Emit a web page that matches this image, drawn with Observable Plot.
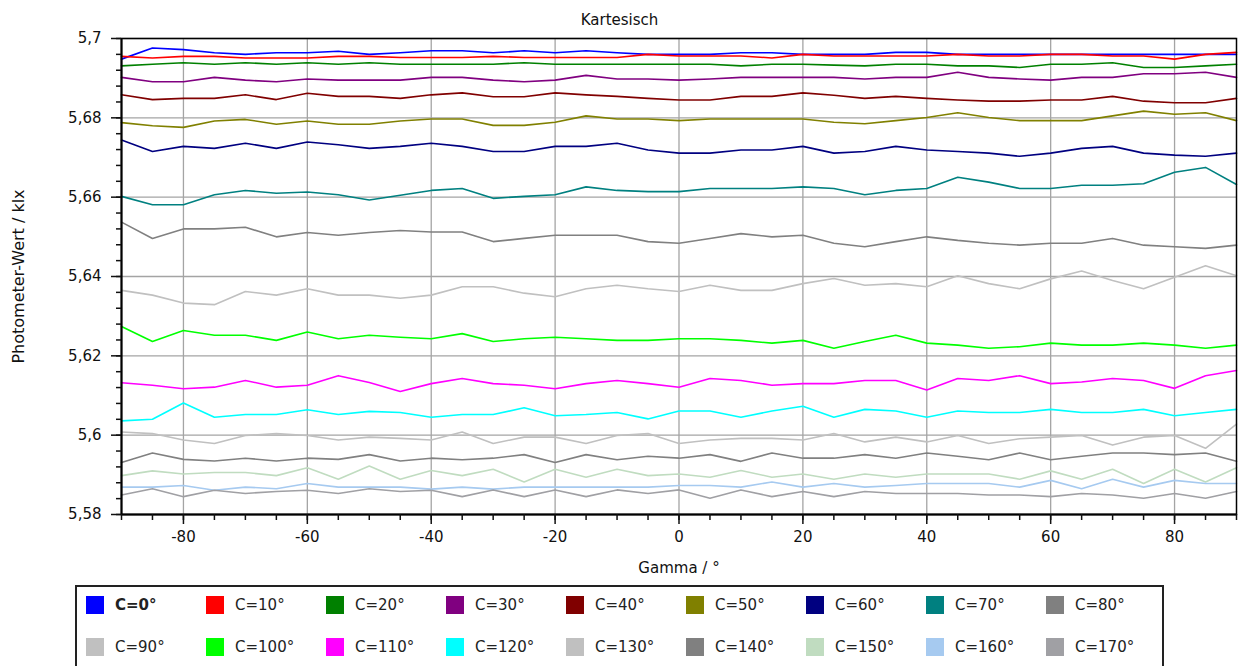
<!DOCTYPE html>
<html><head><meta charset="utf-8">
<script src="https://cdn.jsdelivr.net/npm/d3@7"></script>
<script src="https://cdn.jsdelivr.net/npm/@observablehq/plot@0.6"></script>
<style>
body{margin:0;background:#fff;font-family:"DejaVu Sans",sans-serif;}
#chart{position:absolute;left:0;top:0;}
#legend{position:absolute;left:75px;top:585px;width:1089px;height:110px;border:2px solid #222;box-sizing:border-box;background:#fff;}
.item{position:absolute;display:flex;align-items:center;font-size:15px;color:#222;height:18px;white-space:nowrap;}
.sw{width:18px;height:18px;margin-right:11px;flex:none;}
</style></head><body>
<div id="chart"></div><div id="legend"></div>
<script>
const title = "Kartesisch";
const xLabel = "Gamma / °";
const yLabel = "Photometer-Wert / klx";
const gamma = [-90,-85,-80,-75,-70,-65,-60,-55,-50,-45,-40,-35,-30,-25,-20,-15,-10,-5,0,5,10,15,20,25,30,35,40,45,50,55,60,65,70,75,80,85,90];
const seriesNames = ["C=0°","C=10°","C=20°","C=30°","C=40°","C=50°","C=60°","C=70°","C=80°","C=90°","C=100°","C=110°","C=120°","C=130°","C=140°","C=150°","C=160°","C=170°"];
const seriesColors = ["#0000ff","#ff0000","#008000","#800080","#800000","#808000","#000080","#008080","#808080","#c0c0c0","#00ff00","#ff00ff","#00ffff","#c0c0c0","#808080","#c0dcc0","#a6caf0","#a0a0a4"];
const c0 = [5.6948,5.6976,5.6972,5.6964,5.6960,5.6964,5.6964,5.6968,5.6960,5.6964,5.6969,5.6969,5.6964,5.6969,5.6964,5.6969,5.6964,5.6960,5.6960,5.6960,5.6964,5.6964,5.6960,5.6960,5.6960,5.6965,5.6965,5.6960,5.6960,5.6960,5.6960,5.6960,5.6960,5.6960,5.6960,5.6960,5.6960];
const c10 = [5.6955,5.6951,5.6955,5.6955,5.6951,5.6951,5.6951,5.6955,5.6955,5.6952,5.6952,5.6952,5.6955,5.6952,5.6952,5.6952,5.6952,5.6960,5.6956,5.6956,5.6956,5.6951,5.6960,5.6956,5.6956,5.6956,5.6956,5.6960,5.6956,5.6956,5.6960,5.6960,5.6956,5.6956,5.6948,5.6960,5.6965];
const c20 = [5.6931,5.6935,5.6939,5.6935,5.6939,5.6935,5.6939,5.6935,5.6939,5.6935,5.6935,5.6935,5.6935,5.6939,5.6935,5.6935,5.6935,5.6935,5.6935,5.6935,5.6931,5.6935,5.6935,5.6933,5.6931,5.6935,5.6935,5.6931,5.6931,5.6927,5.6935,5.6935,5.6939,5.6927,5.6927,5.6931,5.6935];
const c30 = [5.6902,5.6891,5.6891,5.6902,5.6895,5.6891,5.6898,5.6895,5.6895,5.6895,5.6902,5.6902,5.6895,5.6891,5.6895,5.6907,5.6898,5.6898,5.6895,5.6898,5.6902,5.6902,5.6902,5.6902,5.6898,5.6902,5.6902,5.6915,5.6902,5.6898,5.6895,5.6902,5.6902,5.6911,5.6911,5.6915,5.6902];
const c40 = [5.6858,5.6846,5.6849,5.6849,5.6858,5.6846,5.6862,5.6854,5.6854,5.6849,5.6858,5.6863,5.6853,5.6853,5.6863,5.6858,5.6854,5.6849,5.6845,5.6845,5.6854,5.6854,5.6863,5.6857,5.6849,5.6854,5.6849,5.6845,5.6842,5.6842,5.6845,5.6845,5.6854,5.6842,5.6838,5.6838,5.6849];
const c50 = [5.6788,5.6780,5.6776,5.6792,5.6796,5.6784,5.6792,5.6784,5.6784,5.6792,5.6797,5.6797,5.6781,5.6781,5.6789,5.6805,5.6797,5.6797,5.6793,5.6797,5.6797,5.6797,5.6797,5.6789,5.6785,5.6793,5.6801,5.6813,5.6801,5.6793,5.6793,5.6793,5.6805,5.6817,5.6809,5.6813,5.6793];
const c60 = [5.6744,5.6715,5.6728,5.6723,5.6736,5.6723,5.6739,5.6732,5.6723,5.6728,5.6736,5.6728,5.6715,5.6715,5.6728,5.6728,5.6736,5.6719,5.6711,5.6711,5.6719,5.6719,5.6728,5.6711,5.6715,5.6728,5.6719,5.6715,5.6711,5.6703,5.6711,5.6723,5.6728,5.6711,5.6706,5.6703,5.6711];
const c70 = [5.6602,5.6581,5.6581,5.6606,5.6617,5.6610,5.6613,5.6606,5.6593,5.6605,5.6617,5.6622,5.6597,5.6602,5.6606,5.6626,5.6617,5.6614,5.6614,5.6622,5.6622,5.6622,5.6626,5.6622,5.6606,5.6617,5.6622,5.6650,5.6638,5.6622,5.6622,5.6630,5.6630,5.6634,5.6663,5.6675,5.6632];
const c80 = [5.6537,5.6496,5.6520,5.6520,5.6524,5.6500,5.6511,5.6504,5.6511,5.6516,5.6512,5.6512,5.6488,5.6496,5.6504,5.6504,5.6504,5.6488,5.6484,5.6496,5.6508,5.6500,5.6504,5.6484,5.6475,5.6488,5.6500,5.6491,5.6484,5.6479,5.6484,5.6484,5.6496,5.6479,5.6475,5.6471,5.6479];
const c90 = [5.6365,5.6353,5.6333,5.6329,5.6362,5.6353,5.6369,5.6353,5.6353,5.6345,5.6353,5.6374,5.6374,5.6358,5.6349,5.6369,5.6378,5.6369,5.6362,5.6378,5.6365,5.6365,5.6382,5.6395,5.6378,5.6382,5.6374,5.6402,5.6382,5.6369,5.6394,5.6414,5.6390,5.6369,5.6398,5.6427,5.6402];
const c100 = [5.6274,5.6236,5.6264,5.6252,5.6252,5.6239,5.6260,5.6243,5.6252,5.6247,5.6243,5.6256,5.6236,5.6243,5.6247,5.6243,5.6239,5.6239,5.6243,5.6243,5.6239,5.6232,5.6239,5.6219,5.6236,5.6252,5.6232,5.6227,5.6219,5.6223,5.6232,5.6227,5.6227,5.6232,5.6227,5.6219,5.6227];
const c110 = [5.6132,5.6126,5.6117,5.6121,5.6138,5.6121,5.6126,5.6150,5.6133,5.6110,5.6130,5.6143,5.6130,5.6126,5.6117,5.6130,5.6138,5.6130,5.6121,5.6143,5.6138,5.6126,5.6130,5.6130,5.6138,5.6138,5.6114,5.6143,5.6138,5.6150,5.6130,5.6134,5.6143,5.6138,5.6118,5.6150,5.6163];
const c120 = [5.6036,5.6040,5.6081,5.6045,5.6052,5.6052,5.6064,5.6052,5.6060,5.6057,5.6045,5.6052,5.6052,5.6069,5.6049,5.6052,5.6057,5.6041,5.6061,5.6061,5.6045,5.6061,5.6073,5.6045,5.6065,5.6061,5.6045,5.6061,5.6057,5.6057,5.6065,5.6057,5.6057,5.6065,5.6049,5.6057,5.6065];
const c130 = [5.6008,5.6004,5.5988,5.5979,5.5999,5.6004,5.5999,5.5988,5.5995,5.5992,5.5988,5.6008,5.5979,5.5995,5.5995,5.5979,5.5999,5.6004,5.5979,5.5988,5.5992,5.5992,5.5988,5.6004,5.5983,5.5995,5.5983,5.5999,5.5979,5.5991,5.5995,5.5999,5.5975,5.5995,5.5999,5.5967,5.6028];
const c140 = [5.5931,5.5955,5.5939,5.5935,5.5942,5.5935,5.5942,5.5939,5.5951,5.5935,5.5942,5.5938,5.5942,5.5951,5.5931,5.5951,5.5938,5.5947,5.5942,5.5951,5.5934,5.5955,5.5942,5.5942,5.5951,5.5942,5.5955,5.5947,5.5938,5.5955,5.5938,5.5947,5.5955,5.5955,5.5951,5.5955,5.5934];
const c150 = [5.5898,5.5910,5.5902,5.5906,5.5906,5.5898,5.5918,5.5889,5.5922,5.5889,5.5911,5.5898,5.5914,5.5882,5.5914,5.5894,5.5914,5.5898,5.5902,5.5894,5.5911,5.5894,5.5902,5.5889,5.5902,5.5894,5.5902,5.5902,5.5902,5.5889,5.5910,5.5889,5.5914,5.5878,5.5914,5.5882,5.5918];
const c160 = [5.5869,5.5869,5.5873,5.5861,5.5869,5.5865,5.5878,5.5869,5.5869,5.5869,5.5864,5.5869,5.5864,5.5869,5.5869,5.5869,5.5869,5.5869,5.5873,5.5873,5.5869,5.5882,5.5869,5.5878,5.5869,5.5873,5.5878,5.5878,5.5878,5.5869,5.5886,5.5865,5.5889,5.5869,5.5886,5.5878,5.5878];
const c170 = [5.5849,5.5865,5.5845,5.5861,5.5853,5.5858,5.5861,5.5853,5.5865,5.5858,5.5861,5.5845,5.5862,5.5845,5.5862,5.5845,5.5862,5.5853,5.5862,5.5841,5.5862,5.5845,5.5858,5.5845,5.5858,5.5853,5.5853,5.5853,5.5849,5.5849,5.5845,5.5853,5.5849,5.5841,5.5853,5.5841,5.5858];
const xTicks = [-80,-60,-40,-20,0,20,40,60,80];
const xTickLabels = ["-80","-60","-40","-20","0","20","40","60","80"];
const xMinorTicks = [-90,-85,-80,-75,-70,-65,-60,-55,-50,-45,-40,-35,-30,-25,-20,-15,-10,-5,0,5,10,15,20,25,30,35,40,45,50,55,60,65,70,75,80,85,90];
const yTicks = [5.58,5.6,5.62,5.64,5.66,5.68,5.7];
const yTickLabels = ["5,58","5,6","5,62","5,64","5,66","5,68","5,7"];
const yMinorTicks = [5.58,5.584,5.588,5.592,5.596,5.6,5.604,5.608,5.612,5.616,5.62,5.624,5.628,5.632,5.636,5.64,5.644,5.648,5.652,5.656,5.66,5.664,5.668,5.672,5.676,5.68,5.684,5.688,5.692,5.696,5.7];

const allSeries = [c0,c10,c20,c30,c40,c50,c60,c70,c80,c90,c100,c110,c120,c130,c140,c150,c160,c170];
const rows = [];
allSeries.forEach((vals, si) => vals.forEach((v, i) => rows.push({gamma: gamma[i], value: v, series: seriesNames[si]})));

const xLab = new Map(xTicks.map((t, i) => [t, xTickLabels[i]]));
const yLab = new Map(yTicks.map((t, i) => [t.toFixed(2), yTickLabels[i]]));
const grid = {stroke: "#a4a4a4", strokeOpacity: 1, strokeWidth: 1.3};

const chart = Plot.plot({
  width: 1239, height: 580,
  marginLeft: 121, marginRight: 3, marginTop: 38, marginBottom: 66,
  style: {fontFamily: "DejaVu Sans", fontSize: "15px", background: "white", color: "#111", overflow: "visible"},
  x: {domain: [-90, 90]},
  y: {domain: [5.58, 5.7]},
  color: {domain: seriesNames, range: seriesColors},
  marks: [
    Plot.gridX(xTicks, grid),
    Plot.gridY(yTicks, grid),
    Plot.line(rows, {x: "gamma", y: "value", z: "series", stroke: "series", strokeWidth: 1.6}),
    Plot.frame({stroke: "#000", strokeWidth: 1.5}),
    Plot.ruleX([-90], {stroke: "#000", strokeWidth: 2}),
    Plot.ruleY([5.58], {stroke: "#000", strokeWidth: 2}),
    Plot.axisY(yMinorTicks, {tickSize: 5, tickFormat: () => "", label: null, strokeWidth: 1.5}),
    Plot.axisY(yTicks, {tickSize: 10, tickPadding: 10, tickFormat: d => yLab.get((+d).toFixed(2)), label: null, strokeWidth: 1.5, fontSize: 15}),
    Plot.axisX(xMinorTicks, {tickSize: 6, tickFormat: () => "", label: null, strokeWidth: 1.5}),
    Plot.axisX(xTicks, {tickSize: 10, tickPadding: 7, tickFormat: d => xLab.get(d), label: null, strokeWidth: 1.5, fontSize: 15}),
    Plot.text([title], {text: d => d, frameAnchor: "top", dx: -59.5, dy: -18, lineAnchor: "middle", textAnchor: "middle", fontSize: 15}),
    Plot.text([xLabel], {text: d => d, frameAnchor: "bottom", dy: 54, lineAnchor: "middle", textAnchor: "middle", fontSize: 15}),
    Plot.text([yLabel], {text: d => d, frameAnchor: "left", dx: -103, rotate: -90, lineAnchor: "middle", textAnchor: "middle", fontSize: 16})
  ]
});
document.getElementById("chart").appendChild(chart);

const legend = document.getElementById("legend");
seriesNames.forEach((name, i) => {
  const col = i % 9, row = Math.floor(i / 9);
  const item = document.createElement("div");
  item.className = "item";
  item.style.left = (9 + col * 120) + "px";
  item.style.top = (9 + row * 42) + "px";
  const sw = document.createElement("div");
  sw.className = "sw";
  sw.style.background = seriesColors[i];
  const tx = document.createElement("span");
  tx.textContent = name;
  if (i === 0) tx.style.fontWeight = "bold";
  item.appendChild(sw); item.appendChild(tx);
  legend.appendChild(item);
});
</script>
</body></html>
